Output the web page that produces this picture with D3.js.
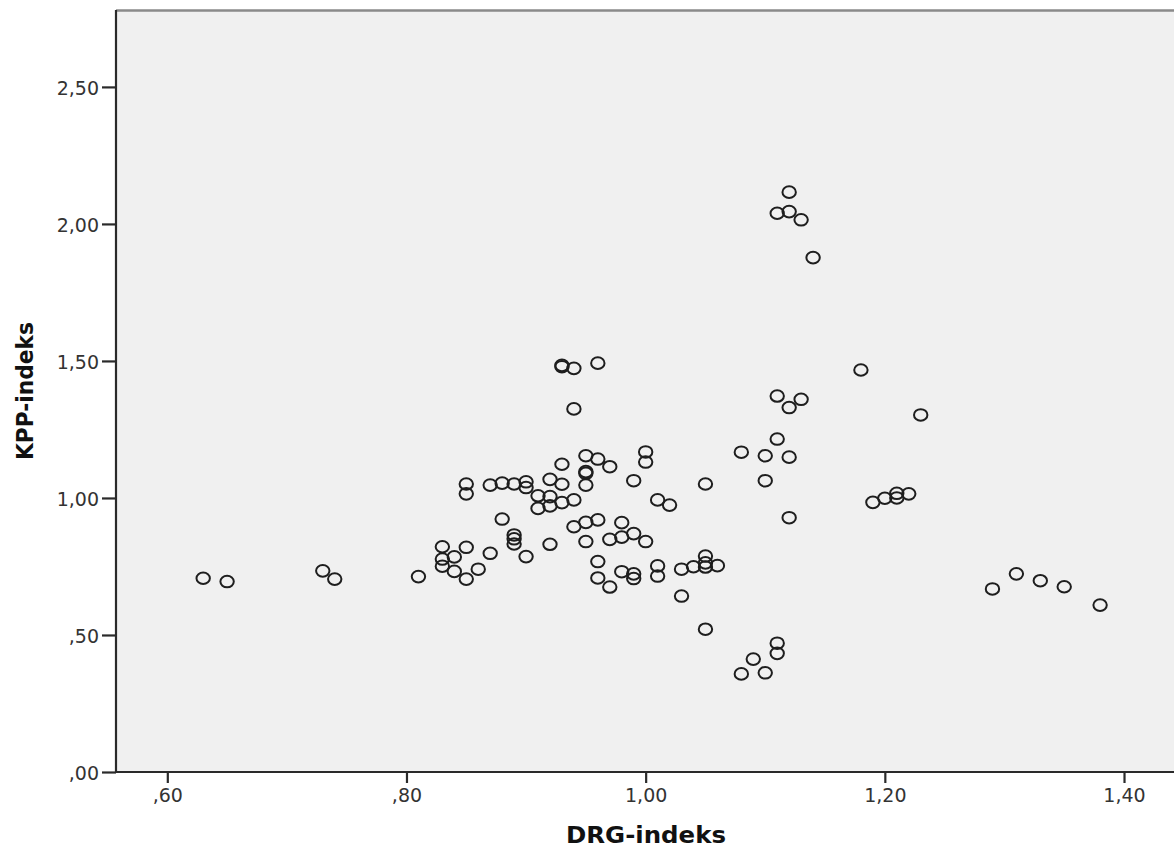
<!DOCTYPE html>
<html>
<head>
<meta charset="utf-8">
<script src="https://cdn.jsdelivr.net/npm/d3@7"></script>
<style>
  html, body { margin: 0; padding: 0; background: #ffffff; }
  svg { display: block; }
</style>
</head>
<body>
<svg id="chart" width="1174" height="847"></svg>
<script>
// ---- data ----
const drgIndeks = [
  0.63, 0.65, 0.73, 0.74, 0.81,
  0.83, 0.83, 0.83,
  0.84, 0.84,
  0.85, 0.85, 0.85, 0.85,
  0.86,
  0.87, 0.87,
  0.88, 0.88,
  0.89, 0.89, 0.89, 0.89,
  0.90, 0.90, 0.90,
  0.91, 0.91,
  0.92, 0.92, 0.92, 0.92,
  0.93, 0.93, 0.93, 0.93, 0.93,
  0.94, 0.94, 0.94, 0.94,
  0.95, 0.95, 0.95, 0.95, 0.95, 0.95,
  0.96, 0.96, 0.96, 0.96, 0.96,
  0.97, 0.97, 0.97,
  0.98, 0.98, 0.98,
  0.99, 0.99, 0.99, 0.99,
  1.00, 1.00, 1.00,
  1.01, 1.01, 1.01,
  1.02,
  1.03, 1.03,
  1.04,
  1.05, 1.05, 1.05, 1.05, 1.05,
  1.06,
  1.08, 1.08,
  1.09,
  1.10, 1.10, 1.10,
  1.11, 1.11, 1.11, 1.11, 1.11,
  1.12, 1.12, 1.12, 1.12, 1.12,
  1.13, 1.13,
  1.14,
  1.18, 1.19, 1.20,
  1.21, 1.21,
  1.22, 1.23,
  1.29, 1.31, 1.33, 1.35, 1.38
];
const kppIndeks = [
  0.707, 0.695, 0.734, 0.704, 0.713,
  0.822, 0.777, 0.751,
  0.785, 0.732,
  1.051, 1.015, 0.820, 0.704,
  0.740,
  1.047, 0.798,
  1.054, 0.923,
  1.051, 0.865, 0.851, 0.832,
  1.059, 1.038, 0.786,
  1.008, 0.962,
  1.068, 1.005, 0.971, 0.831,
  1.479, 1.484, 1.123, 1.050, 0.983,
  1.473, 1.325, 0.993, 0.895,
  1.154, 1.096, 1.090, 1.047, 0.911, 0.841,
  1.492, 1.142, 0.920, 0.768, 0.708,
  1.114, 0.849, 0.675,
  0.910, 0.857, 0.731,
  1.063, 0.870, 0.723, 0.706,
  1.168, 1.131, 0.841,
  0.993, 0.752, 0.715,
  0.974,
  0.740, 0.642,
  0.749,
  1.051, 0.788, 0.763, 0.748, 0.521,
  0.753,
  1.167, 0.358,
  0.412,
  1.154, 1.063, 0.362,
  2.039, 1.372, 1.215, 0.470, 0.433,
  2.116, 2.045, 1.330, 1.149, 0.928,
  2.015, 1.360,
  1.877,
  1.467, 0.984, 0.999,
  1.017, 1.000,
  1.015, 1.303,
  0.668, 0.723, 0.698, 0.676, 0.609
];
const xTickValues = [0.6, 0.8, 1.0, 1.2, 1.4];
const xTickLabels = [",60", ",80", "1,00", "1,20", "1,40"];
const yTickValues = [0, 0.5, 1.0, 1.5, 2.0, 2.5];
const yTickLabels = [",00", ",50", "1,00", "1,50", "2,00", "2,50"];
const xTitle = "DRG-indeks";
const yTitle = "KPP-indeks";

// ---- layout ----
const svg = d3.select("#chart");
const pLeft = 116, pRight = 1174, pTop = 11, pBottom = 772;

const x = d3.scaleLinear().domain([0.5571, 1.4418]).range([pLeft, pRight]);
const y = d3.scaleLinear().domain([0, 2.777]).range([pBottom, pTop]);

// plot background
svg.append("rect")
  .attr("x", pLeft).attr("y", pTop)
  .attr("width", pRight - pLeft + 2).attr("height", pBottom - pTop)
  .attr("fill", "#f0f0f0");

// top border
svg.append("line")
  .attr("x1", pLeft).attr("x2", pRight + 2)
  .attr("y1", pTop - 0.5).attr("y2", pTop - 0.5)
  .attr("stroke", "#8a8a8a").attr("stroke-width", 2.5);

// points
const pts = drgIndeks.map((d, i) => ({ x: d, y: kppIndeks[i] }));
svg.append("g")
  .selectAll("ellipse")
  .data(pts)
  .join("ellipse")
  .attr("cx", d => x(d.x))
  .attr("cy", d => y(d.y))
  .attr("rx", 6.7)
  .attr("ry", 5.8)
  .attr("fill", "none")
  .attr("stroke", "#1e1e1e")
  .attr("stroke-width", 2);

// axes
const fontFam = "'DejaVu Sans', Verdana, sans-serif";

const xAxis = d3.axisBottom(x)
  .tickValues(xTickValues)
  .tickFormat((d, i) => xTickLabels[i])
  .tickSizeInner(11).tickSizeOuter(0).tickPadding(6);
const gx = svg.append("g")
  .attr("transform", `translate(0,${pBottom})`)
  .call(xAxis);

const yAxis = d3.axisLeft(y)
  .tickValues(yTickValues)
  .tickFormat((d, i) => yTickLabels[i])
  .tickSizeInner(14).tickSizeOuter(0).tickPadding(3);
const gy = svg.append("g")
  .attr("transform", `translate(${pLeft},0)`)
  .call(yAxis);

[gx, gy].forEach(g => {
  g.select(".domain").attr("stroke", "#2a2a2a").attr("stroke-width", 2.2);
  g.selectAll(".tick line").attr("stroke", "#2a2a2a").attr("stroke-width", 2.2);
  g.selectAll(".tick text")
    .attr("fill", "#333")
    .style("font-family", fontFam)
    .style("font-size", "19px");
});
gy.select(".domain").attr("d", `M0,${pBottom + 1}V${pTop - 1}`);
gx.select(".domain").attr("d", `M${pLeft - 1},0H${pRight + 2}`);
gy.selectAll(".tick text").attr("dy", "0.42em");

// titles
svg.append("text")
  .attr("x", 646).attr("y", 843)
  .attr("text-anchor", "middle")
  .attr("textLength", 160)
  .attr("lengthAdjust", "spacingAndGlyphs")
  .style("font-family", fontFam)
  .style("font-weight", "bold")
  .style("font-size", "23px")
  .attr("fill", "#111")
  .text(xTitle);

svg.append("text")
  .attr("transform", `translate(33,391) rotate(-90)`)
  .attr("text-anchor", "middle")
  .attr("textLength", 138)
  .attr("lengthAdjust", "spacingAndGlyphs")
  .style("font-family", fontFam)
  .style("font-weight", "bold")
  .style("font-size", "23px")
  .attr("fill", "#111")
  .text(yTitle);
</script>
</body>
</html>
